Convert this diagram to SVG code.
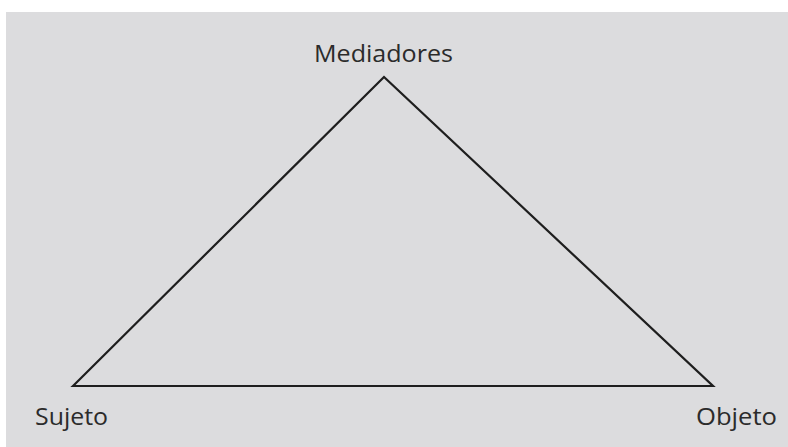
<svg xmlns="http://www.w3.org/2000/svg" width="788" height="447" viewBox="0 0 788 447">
<style>
.lbl{font-family:"Open Sans","Noto Sans","Liberation Sans",sans-serif;font-size:24px;fill:#2b2b2b}
.edge{fill:none;stroke:#1e1e1e;stroke-width:2.2;stroke-linejoin:miter}
</style>
<rect x="0" y="0" width="788" height="447" fill="#ffffff"/>
<rect x="6" y="12" width="782" height="435" fill="#dcdcde"/>
<g id="connectors">
<path class="edge" d="M73 386 L384 77 L713 386 Z"/>
</g>
<g id="mediadores"><text class="lbl" x="383.5" y="62" text-anchor="middle" textLength="139" lengthAdjust="spacingAndGlyphs">Mediadores</text></g>
<g id="sujeto"><text class="lbl" x="35" y="425" textLength="73" lengthAdjust="spacingAndGlyphs">Sujeto</text></g>
<g id="objeto"><text class="lbl" x="696" y="425" textLength="81" lengthAdjust="spacingAndGlyphs">Objeto</text></g>
</svg>
